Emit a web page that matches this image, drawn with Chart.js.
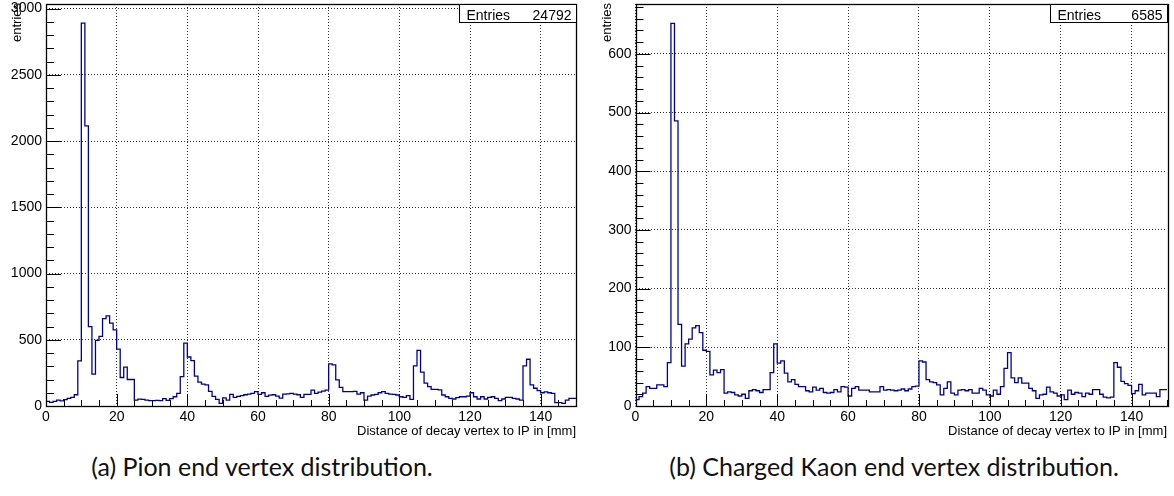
<!DOCTYPE html>
<html>
<head>
<meta charset="utf-8">
<script src="https://cdn.jsdelivr.net/npm/chart.js@4.4.0/dist/chart.umd.min.js"></script>
<style>
  html, body { margin: 0; padding: 0; background: #fff; }
  body { width: 1174px; height: 496px; position: relative; overflow: hidden; }
  .panel { position: absolute; top: 0; width: 587px; height: 440px; }
  .caption {
    position: absolute; top: 454px; line-height: 1;
    font-family: Lato, "Open Sans", sans-serif; font-weight: 400; font-size: 25px; color: #111;
    white-space: nowrap; transform: translateX(-50%);
  }
</style>
</head>
<body>
<div class="panel" style="left:0"><canvas id="pion"></canvas></div>
<div class="panel" style="left:587px"><canvas id="kaon"></canvas></div>
<div class="caption" style="left:262px">(a) Pion end vertex distribution.</div>
<div class="caption" style="left:894px">(b) Charged Kaon end vertex distribution.</div>

<script>
// bins: 150 bins of 1 mm from 0 to 150 mm
const binLow = 0;
const binWidth = 1;

const pionCounts = [
  35, 28, 35, 45, 38, 48, 58, 65, 85, 340,
  2890, 2115, 600, 240, 495, 525, 660, 680, 625, 575,
  430, 215, 293, 200, 200, 45, 52, 50, 45, 40,
  40, 42, 40, 55, 42, 55, 70, 95, 222, 475,
  370, 343, 225, 180, 165, 160, 110, 72, 50, 20,
  62, 45, 88, 65, 72, 78, 85, 90, 95, 108,
  88, 100, 72, 82, 85, 75, 60, 90, 92, 95,
  90, 85, 65, 88, 88, 120, 95, 105, 112, 120,
  318, 310, 197, 141, 108, 108, 108, 110, 90, 100,
  45, 75, 83, 88, 100, 108, 96, 90, 88, 83,
  70, 65, 78, 50, 303, 420, 255, 172, 146, 126,
  126, 121, 83, 70, 58, 53, 63, 70, 70, 75,
  100, 70, 53, 70, 53, 65, 70, 58, 40, 53,
  65, 65, 58, 53, 45, 303, 353, 160, 134, 116,
  100, 106, 100, 96, 25, 25, 20, 45, 58, 58
];

const kaonCounts = [
  11, 16, 22, 33, 30, 30, 36, 36, 33, 74,
  652, 486, 139, 68, 106, 114, 133, 137, 125, 95,
  93, 53, 61, 57, 62, 22, 24, 23, 19, 17,
  20, 13, 26, 28, 26, 23, 28, 28, 57, 106,
  73, 77, 56, 41, 45, 37, 33, 33, 26, 24,
  32, 27, 30, 23, 22, 23, 28, 24, 33, 32,
  17, 30, 33, 27, 27, 27, 24, 24, 24, 33,
  27, 28, 27, 26, 27, 29, 26, 29, 33, 34,
  77, 75, 45, 41, 40, 36, 19, 30, 41, 22,
  19, 27, 28, 26, 28, 22, 22, 30, 27, 19,
  17, 27, 20, 33, 64, 91, 48, 40, 48, 39,
  39, 30, 26, 13, 19, 20, 32, 24, 22, 17,
  19, 11, 27, 20, 23, 22, 16, 22, 20, 28,
  28, 20, 15, 14, 15, 74, 66, 42, 38, 35,
  21, 26, 37, 19, 22, 22, 22, 16, 28, 28
];

const xTicks = [0, 20, 40, 60, 80, 100, 120, 140];
const pionYTicks = [0, 500, 1000, 1500, 2000, 2500, 3000];
const kaonYTicks = [0, 100, 200, 300, 400, 500, 600];

const pionEntries = 24792;
const kaonEntries = 6585;
const xTitle = 'Distance of decay vertex to IP in [mm]';
const yTitle = 'entries';

// histogram outline as step points (last edge repeats the last bin)
function stepPoints(counts) {
  const pts = counts.map((v, i) => ({ x: binLow + i * binWidth, y: v }));
  pts.push({ x: binLow + counts.length * binWidth, y: counts[counts.length - 1] });
  return pts;
}

const rootStyle = {
  id: 'rootStyle',
  afterDatasetsDraw(chart, args, opts) {
    const { ctx, chartArea: a, scales: { x, y } } = chart;
    ctx.save();

    // inward ticks, major + minor
    ctx.strokeStyle = '#000';
    ctx.lineWidth = 1;
    ctx.beginPath();
    for (let i = 0; i * opts.xMinor <= x.max; i++) {
      const v = i * opts.xMinor;
      const px = Math.round(x.getPixelForValue(v)) + 0.5;
      const len = v % opts.xMajor === 0 ? 12 : 6;
      ctx.moveTo(px, a.bottom);
      ctx.lineTo(px, a.bottom - len);
    }
    for (let i = 0; i * opts.yMinor <= y.max; i++) {
      const v = i * opts.yMinor;
      const py = Math.round(y.getPixelForValue(v)) + 0.5;
      const len = v % opts.yMajor === 0 ? 15 : 8;
      ctx.moveTo(a.left, py);
      ctx.lineTo(a.left + len, py);
    }
    ctx.stroke();

    // frame
    ctx.lineWidth = 1.3;
    ctx.strokeRect(Math.round(a.left) + 0.5, Math.round(a.top) + 0.5,
      Math.round(a.right - a.left), Math.round(a.bottom - a.top));

    // stats box
    const bw = 117, bh = 18;
    const bx = Math.round(a.right) - bw + 0.5, by = Math.round(a.top) + 0.5;
    ctx.fillStyle = '#fff';
    ctx.fillRect(bx, by, bw, bh);
    ctx.lineWidth = 1;
    ctx.strokeRect(bx, by, bw, bh);
    ctx.fillStyle = '#000';
    ctx.font = '14px "Liberation Sans", Arial, sans-serif';
    ctx.textBaseline = 'alphabetic';
    ctx.textAlign = 'left';
    ctx.fillText('Entries', bx + 7, by + 15);
    ctx.textAlign = 'right';
    ctx.fillText(String(opts.entries), bx + bw - 5, by + 15);

    // axis titles
    ctx.font = '13px "Liberation Sans", Arial, sans-serif';
    ctx.textAlign = 'right';
    ctx.fillText(xTitle, a.right, 435, 254);
    ctx.translate(a.left - 25, 3);
    ctx.rotate(-Math.PI / 2);
    ctx.fillText(yTitle, 0, 0);
    ctx.restore();
  }
};

function makeChart(id, counts, yMax, yTicks, yMinor, entries, yAxisWidth, rightPad) {
  const tickFont = { family: '"Liberation Sans", Arial, sans-serif', size: 14 };
  return new Chart(document.getElementById(id), {
    type: 'line',
    data: {
      datasets: [{
        data: stepPoints(counts),
        stepped: 'before',
        borderColor: '#000099',
        borderWidth: 1.3,
        pointRadius: 0,
        fill: false
      }]
    },
    options: {
      responsive: true,
      maintainAspectRatio: false,
      animation: false,
      devicePixelRatio: 1,
      layout: { padding: { top: 4, right: rightPad, left: 0, bottom: 0 } },
      plugins: {
        legend: { display: false },
        tooltip: { enabled: false },
        rootStyle: { entries: entries, xMajor: 20, xMinor: 5, yMajor: yTicks[1], yMinor: yMinor }
      },
      scales: {
        x: {
          type: 'linear',
          min: 0,
          max: 150,
          border: { display: false, dash: [1, 2] },
          grid: { color: 'rgba(0,0,0,0.8)', lineWidth: 1, drawTicks: false },
          ticks: { padding: 3, maxRotation: 0, autoSkip: false, color: '#000', font: tickFont },
          afterBuildTicks: (s) => { s.ticks = xTicks.map((v) => ({ value: v })); },
          afterFit: (s) => { s.height = 34; s.paddingLeft = 0; s.paddingRight = 0; }
        },
        y: {
          min: 0,
          max: yMax,
          border: { display: false, dash: [1, 2] },
          grid: { color: 'rgba(0,0,0,0.8)', lineWidth: 1, drawTicks: false },
          ticks: { padding: 4, color: '#000', font: tickFont, callback: (v) => String(v) },
          afterBuildTicks: (s) => { s.ticks = yTicks.map((v) => ({ value: v })); },
          afterFit: (s) => { s.width = yAxisWidth; s.paddingTop = 0; s.paddingBottom = 0; }
        }
      }
    },
    plugins: [rootStyle]
  });
}

makeChart('pion', pionCounts, 3035, pionYTicks, 100, pionEntries, 46, 11);
makeChart('kaon', kaonCounts, 685, kaonYTicks, 20, kaonEntries, 48.5, 7);
</script>
</body>
</html>
